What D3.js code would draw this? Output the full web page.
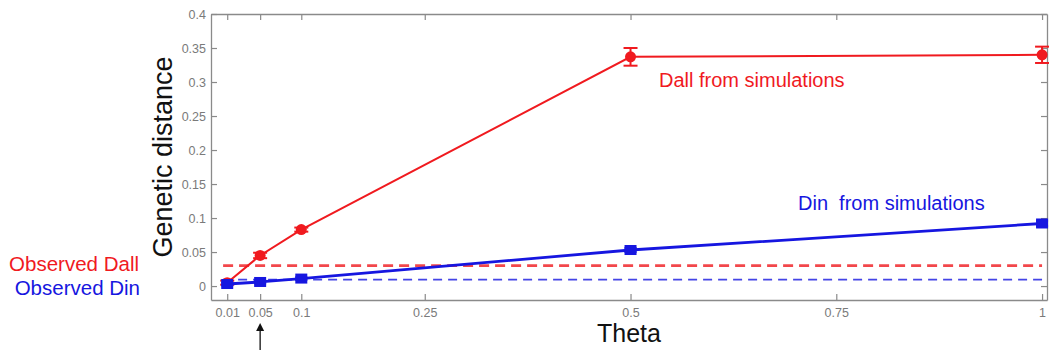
<!DOCTYPE html>
<html>
<head>
<meta charset="utf-8">
<script src="https://cdn.jsdelivr.net/npm/d3@7"></script>
<style>
  html, body { margin: 0; padding: 0; background: #fff; }
  svg text { font-family: Arial, "Liberation Sans", Helvetica, sans-serif; }
</style>
</head>
<body>
<svg id="chart" width="1049" height="350"></svg>
<script>
// Simulated genetic distances by theta
const thetas      = [0.01, 0.05, 0.1, 0.5, 1];
const dallMean    = [0.005, 0.045, 0.083, 0.337, 0.340];
const dallErr     = [0.003, 0.004, 0.003, 0.013, 0.012];
const dinMean     = [0.003, 0.006, 0.011, 0.053, 0.092];
const dinErr      = [0.002, 0.002, 0.002, 0.003, 0.004];

// Observed reference values
const observedDall = 0.03;
const observedDin  = 0.0095;

// Axis ticks
const xTicks = [0.01, 0.05, 0.1, 0.25, 0.5, 0.75, 1];
const xTickLabels = ["0.01", "0.05", "0.1", "0.25", "0.5", "0.75", "1"];
const yTicks = [0, 0.05, 0.1, 0.15, 0.2, 0.25, 0.3, 0.35, 0.4];
const yTickLabels = ["0", "0.05", "0.1", "0.15", "0.2", "0.25", "0.3", "0.35", "0.4"];

const RED = "#f01a1f";
const BLUE = "#1616e0";
const GRAY = "#8a8a8a";

const svg = d3.select("#chart");
const plot = { left: 211, right: 1047, top: 14, bottom: 300 };

const x = d3.scaleLinear().domain([-0.0097, 1.006]).range([plot.left, plot.right]);
const y = d3.scaleLinear().domain([-0.0205, 0.4]).range([plot.bottom, plot.top]);

const tickFmt = (labels, ticks) => (d) => labels[ticks.indexOf(d)];

// Box axes with inward ticks
const axisStyle = g => {
  g.selectAll(".domain").attr("stroke", GRAY).attr("stroke-width", 1.3);
  g.selectAll(".tick line").attr("stroke", GRAY).attr("stroke-width", 1.2);
  g.selectAll(".tick text").attr("fill", "#7a7a7a").attr("font-size", 12.5);
};

svg.append("g")
  .attr("transform", `translate(0,${plot.bottom})`)
  .call(d3.axisBottom(x).tickValues(xTicks).tickFormat(tickFmt(xTickLabels, xTicks))
        .tickSizeInner(-6).tickSizeOuter(0).tickPadding(8))
  .call(axisStyle);

svg.append("g")
  .attr("transform", `translate(0,${plot.top})`)
  .call(d3.axisTop(x).tickValues(xTicks).tickFormat("")
        .tickSizeInner(-6).tickSizeOuter(0))
  .call(axisStyle);

svg.append("g")
  .attr("transform", `translate(${plot.left},0)`)
  .call(d3.axisLeft(y).tickValues(yTicks).tickFormat(tickFmt(yTickLabels, yTicks))
        .tickSizeInner(-6).tickSizeOuter(0).tickPadding(5))
  .call(axisStyle);

svg.append("g")
  .attr("transform", `translate(${plot.right},0)`)
  .call(d3.axisRight(y).tickValues(yTicks).tickFormat("")
        .tickSizeInner(-6).tickSizeOuter(0))
  .call(axisStyle);

// Observed levels as dashed horizontal lines
const obs = [
  { v: observedDall, c: RED, w: 2.6, dash: "10,6" },
  { v: observedDin,  c: BLUE, w: 1.8, dash: "9,6" }
];
svg.selectAll("line.obs").data(obs).enter().append("line")
  .attr("class", "obs")
  .attr("x1", x(0.005)).attr("x2", x(1))
  .attr("y1", d => y(d.v)).attr("y2", d => y(d.v))
  .attr("stroke", d => d.c).attr("stroke-width", d => d.w)
  .attr("stroke-dasharray", d => d.dash).attr("opacity", 0.8);

// Simulated series: line, error bars, markers
function series(means, errs, color, lineW, capHalf, marker) {
  const pts = thetas.map((t, i) => ({ t, m: means[i], e: errs[i] }));
  const g = svg.append("g");
  g.append("path").datum(pts)
    .attr("fill", "none").attr("stroke", color).attr("stroke-width", lineW)
    .attr("d", d3.line().x(d => x(d.t)).y(d => y(d.m)));
  const eb = g.selectAll("g.eb").data(pts).enter().append("g");
  eb.append("line")
    .attr("x1", d => x(d.t)).attr("x2", d => x(d.t))
    .attr("y1", d => y(d.m - d.e)).attr("y2", d => y(d.m + d.e))
    .attr("stroke", color).attr("stroke-width", 2);
  [-1, 1].forEach(s => {
    eb.append("line")
      .attr("x1", d => x(d.t) - capHalf).attr("x2", d => x(d.t) + capHalf)
      .attr("y1", d => y(d.m + s * d.e)).attr("y2", d => y(d.m + s * d.e))
      .attr("stroke", color).attr("stroke-width", 2);
  });
  if (marker === "circle") {
    g.selectAll("circle").data(pts).enter().append("circle")
      .attr("cx", d => x(d.t)).attr("cy", d => y(d.m)).attr("r", 5.5)
      .attr("fill", color);
  } else {
    g.selectAll("rect").data(pts).enter().append("rect")
      .attr("x", d => x(d.t) - 6).attr("y", d => y(d.m) - 5)
      .attr("width", 12).attr("height", 10)
      .attr("fill", color);
  }
}
series(dallMean, dallErr, RED, 2, 7, "circle");
series(dinMean, dinErr, BLUE, 2.8, 6, "square");

// Series labels
svg.append("text").attr("x", 659).attr("y", 87)
  .attr("fill", RED).attr("font-size", 20).text("Dall from simulations");
svg.append("text").attr("x", 798).attr("y", 210)
  .attr("fill", BLUE).attr("font-size", 20).style("white-space", "pre")
  .text("Din  from simulations");

// Observed labels
svg.append("text").attr("x", 139).attr("y", 271).attr("text-anchor", "end")
  .attr("fill", RED).attr("font-size", 20.5).text("Observed Dall");
svg.append("text").attr("x", 140).attr("y", 295).attr("text-anchor", "end")
  .attr("fill", BLUE).attr("font-size", 20.5).text("Observed Din");

// Axis titles
svg.append("text").attr("x", 629).attr("y", 342).attr("text-anchor", "middle")
  .attr("fill", "#111").attr("font-size", 25).text("Theta");
svg.append("text")
  .attr("transform", `translate(172,157) rotate(-90)`)
  .attr("text-anchor", "middle").attr("fill", "#111").attr("font-size", 27)
  .text("Genetic distance");

// Arrow marking theta = 0.05
const ax = x(0.05);
svg.append("line").attr("x1", ax).attr("x2", ax).attr("y1", 350).attr("y2", 328)
  .attr("stroke", "#111").attr("stroke-width", 1.3);
svg.append("path")
  .attr("d", `M${ax},323 L${ax - 4},331 L${ax + 4},331 Z`)
  .attr("fill", "#111");
</script>
</body>
</html>
